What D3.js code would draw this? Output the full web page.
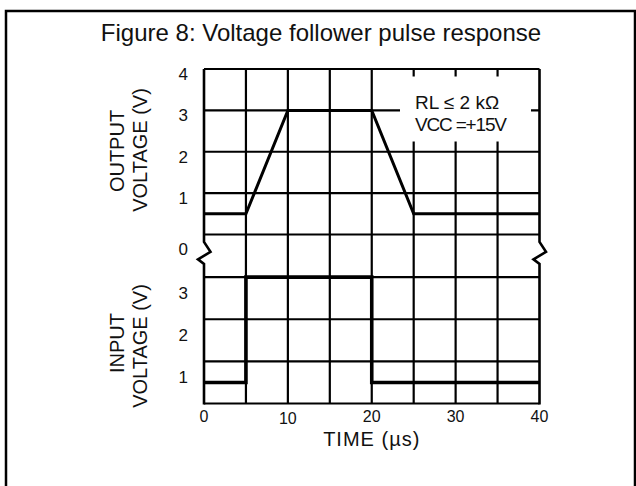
<!DOCTYPE html>
<html><head><meta charset="utf-8">
<script src="https://cdn.jsdelivr.net/npm/d3@7"></script>
<style>
html,body{margin:0;padding:0;background:#fff;}
svg{display:block;font-family:"Liberation Sans",Arial,Helvetica,sans-serif;}
</style></head>
<body>
<svg id="chart" width="636" height="486"></svg>
<script>
// ---- data ----
const titleText = "Figure 8: Voltage follower pulse response";
const timeTicks = [0, 10, 20, 30, 40];
const timeGrid = [0, 5, 10, 15, 20, 25, 30, 35, 40];
const outTicks = [4, 3, 2, 1, 0];
const outGrid = [0, 1, 2, 3, 4];
const inTicks = [3, 2, 1];
const inGrid = [0, 1, 2, 3];
const outTime = [0, 5, 10, 20, 25, 40];
const outVolt = [0.5, 0.5, 3, 3, 0.5, 0.5];
const inTime = [0, 5, 5, 20, 20, 40];
const inVolt = [0.5, 0.5, 3, 3, 0.5, 0.5];
const noteLines = ["RL \u2264 2 k\u03A9", "VCC =+15V"];

// ---- scales ----
const svg = d3.select("#chart");
const x = d3.scaleLinear().domain([0, 40]).range([204, 539.5]);
const yOut = d3.scaleLinear().domain([0, 4]).range([234.5, 69]);
const yIn = d3.scaleLinear().domain([0, 4]).range([403.5, 235]);

// outer frame
svg.append("path")
  .attr("d", "M6,490 L6,11 L635,11 L635,490")
  .attr("fill", "none").attr("stroke", "#000").attr("stroke-width", 2.5);

// title
svg.append("text").attr("x", 321).attr("y", 41)
  .attr("text-anchor", "middle").attr("font-size", 24).attr("fill", "#111")
  .text(titleText);

const g = svg.append("g");
const gs = 2.2;
// vertical interior grid lines
g.selectAll("line.v").data(timeGrid.slice(1, -1)).join("line")
  .attr("x1", d => x(d)).attr("x2", d => x(d))
  .attr("y1", yOut(4)).attr("y2", yIn(0))
  .attr("stroke", "#000").attr("stroke-width", gs);
// horizontal grid lines (output panel)
g.selectAll("line.ho").data(outGrid).join("line")
  .attr("x1", x(0)).attr("x2", x(40))
  .attr("y1", d => yOut(d)).attr("y2", d => yOut(d))
  .attr("stroke", "#000").attr("stroke-width", gs);
// horizontal grid lines (input panel)
g.append("g").selectAll("line").data(inGrid).join("line")
  .attr("x1", x(0)).attr("x2", x(40))
  .attr("y1", d => yIn(d)).attr("y2", d => yIn(d))
  .attr("stroke", "#000").attr("stroke-width", gs);

// side borders with break symbols
function border(xx) {
  const yb = yIn(3.6);
  return `M${xx},${yOut(4)} L${xx},${yb - 10} L${xx + 6.5},${yb} L${xx - 6},${yb + 7.5} L${xx},${yb + 12} L${xx},${yIn(0) + 1}`;
}
g.append("path").attr("d", border(x(0))).attr("fill", "none")
  .attr("stroke", "#000").attr("stroke-width", 2.6).attr("stroke-linejoin", "miter");
g.append("path").attr("d", border(x(40))).attr("fill", "none")
  .attr("stroke", "#000").attr("stroke-width", 2.6).attr("stroke-linejoin", "miter");

// note box
svg.append("rect").attr("x", 400).attr("y", 76.5).attr("width", 131).attr("height", 65)
  .attr("fill", "#fff");
svg.append("g").selectAll("text").data(noteLines).join("text")
  .attr("x", 415).attr("y", (d, i) => 108.5 + i * 22)
  .attr("font-size", 19).attr("fill", "#111")
  .attr("textLength", (d, i) => i === 1 ? 92 : null)
  .attr("lengthAdjust", "spacing")
  .text(d => d);

// traces
const lineOut = d3.line().x((d, i) => x(outTime[i])).y(d => yOut(d));
svg.append("path").attr("d", lineOut(outVolt)).attr("fill", "none")
  .attr("stroke", "#000").attr("stroke-width", 3).attr("stroke-linejoin", "miter");
const lineIn = d3.line().x((d, i) => x(inTime[i])).y(d => yIn(d));
svg.append("path").attr("d", lineIn(inVolt)).attr("fill", "none")
  .attr("stroke", "#000").attr("stroke-width", 3.6).attr("stroke-linejoin", "miter");

// y tick labels
svg.append("g").selectAll("text").data(outTicks).join("text")
  .attr("x", 188).attr("y", d => d === 0 ? 249 : yOut(d) + 5)
  .attr("dy", "0.35em").attr("text-anchor", "end").attr("font-size", 17).attr("fill", "#111")
  .text(d => d);
svg.append("g").selectAll("text").data(inTicks).join("text")
  .attr("x", 188).attr("y", d => yIn(d) + 16)
  .attr("dy", "0.35em").attr("text-anchor", "end").attr("font-size", 17).attr("fill", "#111")
  .text(d => d);

// x tick labels
svg.append("g").selectAll("text").data(timeTicks).join("text")
  .attr("x", d => x(d)).attr("y", d => d === 10 ? 424 : 422)
  .attr("text-anchor", "middle").attr("font-size", 16).attr("fill", "#111")
  .text(d => d);

// axis titles
function vtext(cx, cy, t) {
  svg.append("text").attr("transform", `translate(${cx},${cy}) rotate(-90)`)
    .attr("text-anchor", "middle").attr("dy", "0.35em")
    .attr("font-size", 20).attr("fill", "#111").text(t);
}
vtext(117, 151, "OUTPUT");
vtext(140, 150, "VOLTAGE (V)");
vtext(117, 343, "INPUT");
vtext(140, 346, "VOLTAGE (V)");
svg.append("text").attr("x", x(20)).attr("y", 446).attr("text-anchor", "middle")
  .attr("font-size", 20).attr("letter-spacing", 1).attr("fill", "#111").text("TIME (\u00B5s)");
</script>
</body></html>
